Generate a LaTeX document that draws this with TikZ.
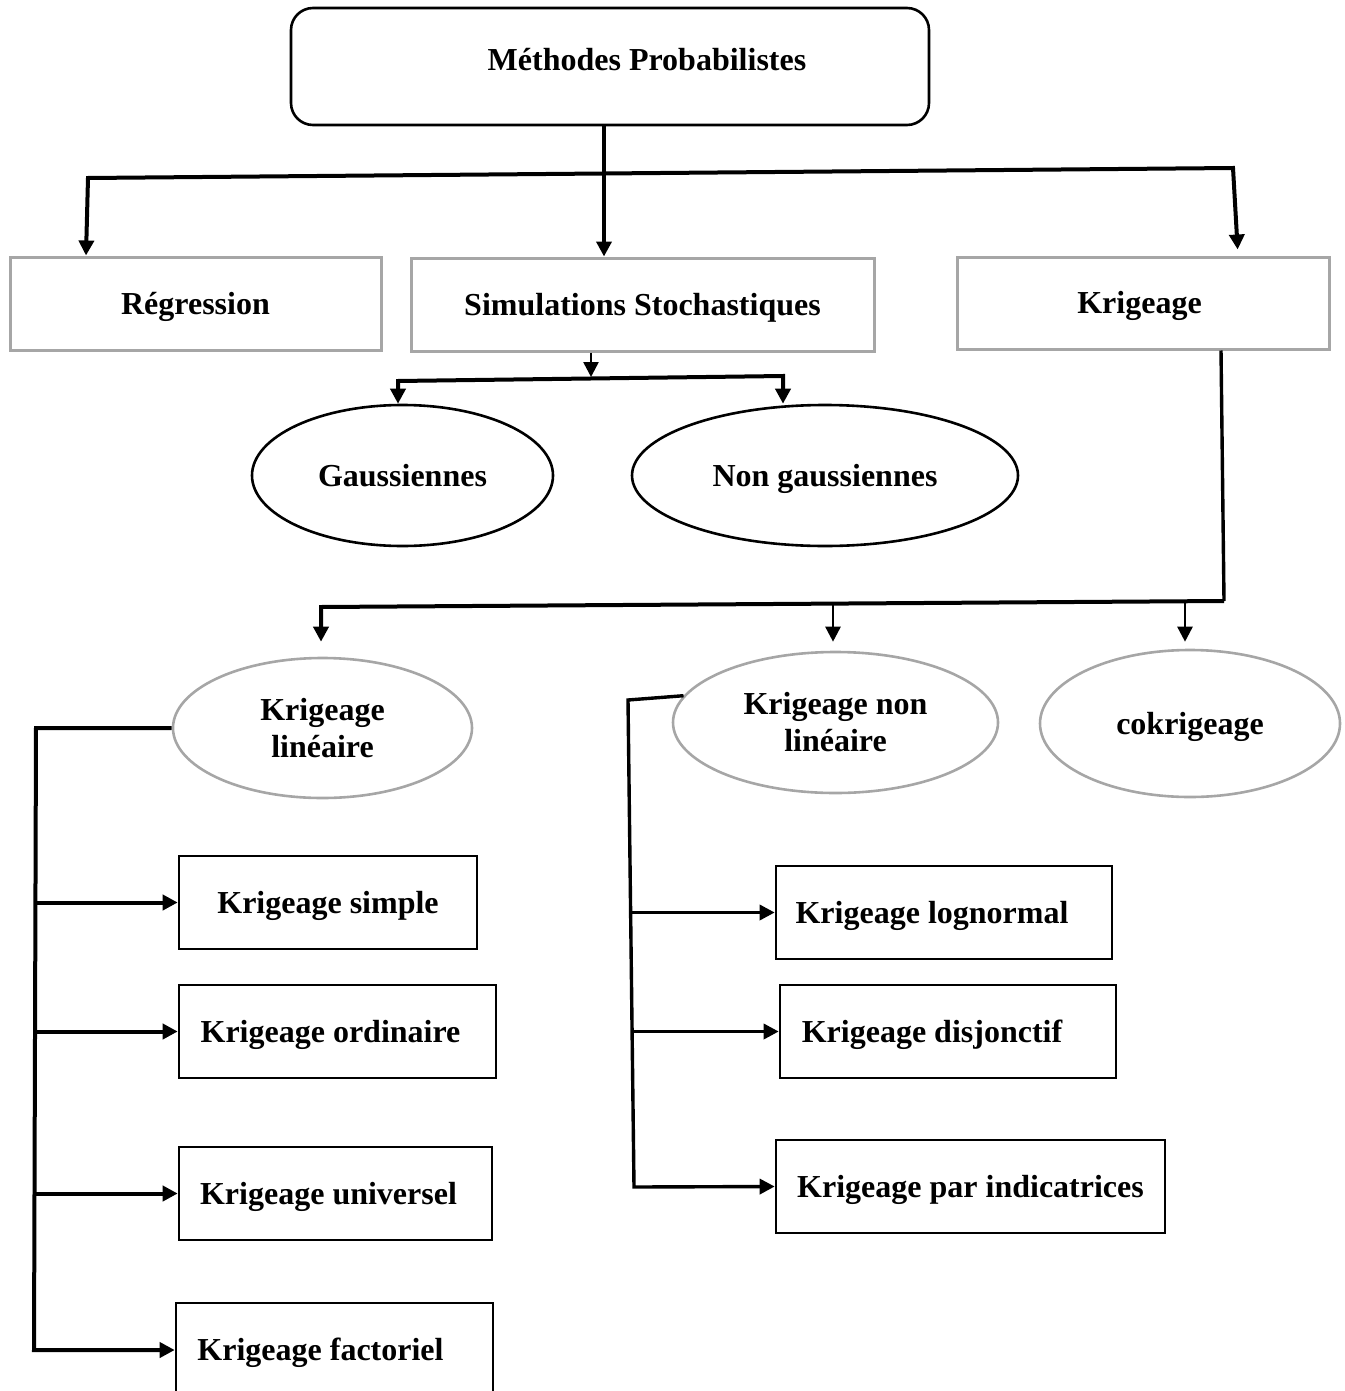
\documentclass[tikz,border=0pt]{standalone}
\usepackage{fontspec}
\setmainfont{Liberation Serif}
\usetikzlibrary{arrows.meta,shapes.geometric,calc}
\definecolor{boxgray}{HTML}{A6A6A6}
\begin{document}
\begin{tikzpicture}[x=1pt,y=-1pt,
  every node/.style={font=\fontsize{32}{37}\selectfont\bfseries, inner sep=0pt, text height=24pt, text depth=3pt, align=center},
  twolines/.style={text height=61pt},
  graybox/.style={draw=boxgray, line width=3pt, rectangle},
  blackbox/.style={draw=black, line width=2.6pt, rectangle},
  blackell/.style={draw=black, line width=2.6pt, ellipse},
  grayell/.style={draw=boxgray, line width=2.6pt, ellipse},
  tip/.style={-{Triangle[length=15pt,width=15pt]}},
  bitip/.style={{Triangle[length=15pt,width=15pt]}-{Triangle[length=15pt,width=15pt]}},
  heavy/.style={line width=4pt},
  medium/.style={line width=3.4pt},
  light/.style={line width=2.6pt},
]
\useasboundingbox (0,0) rectangle (1344,1391);

% nodes
\node[draw, rounded corners=22pt, line width=2.6pt, minimum width=638pt, minimum height=117pt, text depth=15pt] (top) at (610,66.5) {\hspace*{74pt}Méthodes Probabilistes};

\node[graybox, minimum width=371pt, minimum height=93pt] (reg) at (195.5,303.5) {Régression};
\node[graybox, minimum width=463pt, minimum height=93pt] (sim) at (642.5,304.5) {Simulations Stochastiques};
\node[graybox, minimum width=372pt, minimum height=92pt] (krig) at (1143,303) {\hspace*{-7pt}Krigeage};

\node[blackell, minimum width=301pt, minimum height=141pt] (gau) at (402.5,475.5) {Gaussiennes};
\node[blackell, minimum width=386pt, minimum height=141pt] (ngau) at (825,475.5) {Non gaussiennes};

\node[grayell, twolines, minimum width=299pt, minimum height=140pt] (klin) at (322.5,728) {Krigeage\\linéaire};
\node[grayell, twolines, minimum width=325pt, minimum height=141pt] (knl) at (835.5,722.5) {Krigeage non\\linéaire};
\node[grayell, minimum width=300pt, minimum height=147pt] (cok) at (1190,723.5) {cokrigeage};

\node[blackbox, minimum width=298pt, minimum height=93pt] (ks) at (328,902.5) {Krigeage simple};
\node[blackbox, minimum width=317pt, minimum height=93pt] (ko) at (337.5,1031.5) {Krigeage ordinaire\hspace*{14pt}};
\node[blackbox, minimum width=313pt, minimum height=93pt] (ku) at (335.5,1193.5) {Krigeage universel\hspace*{14pt}};
\node[blackbox, minimum width=317pt, minimum height=94pt] (kf) at (334.5,1350) {Krigeage factoriel\hspace*{28pt}};

\node[blackbox, minimum width=336pt, minimum height=93pt] (kln) at (944,912.5) {Krigeage lognormal\hspace*{24pt}};
\node[blackbox, minimum width=336pt, minimum height=93pt] (kdj) at (948,1031.5) {Krigeage disjonctif\hspace*{32pt}};
\node[blackbox, minimum width=389pt, minimum height=93pt] (kpi) at (970.5,1186.5) {Krigeage par indicatrices};

% connector coordinates
\coordinate (a1) at (88,178);
\coordinate (a2) at (1233,168);
\coordinate (s1) at (591,377);
\coordinate (b1) at (398,381);
\coordinate (b2) at (783,376);
\coordinate (c1) at (1224,601);
\coordinate (c2) at (321,607);
\coordinate (c3) at (833,604);
\coordinate (c4) at (1185,602);
\coordinate (d1) at (36,728);
\coordinate (d2) at (34,1350);
\coordinate (e1) at (628,700);
\coordinate (e2) at (634,1187);

% top level
\draw[heavy,tip] (top.south -| 604,0) -- (sim.north -| 604,0);
\draw[heavy,bitip,shorten >=6pt] (reg.north -| 86,0) -- (a1) -- (a2) -- (krig.north -| 1238,0);

% simulations
\draw[light,tip] (sim.south -| s1) -- (s1);
\draw[heavy,bitip] (gau.north -| b1) -- (b1) -- (b2) -- (ngau.north -| b2);

% krigeage
\draw[medium] (krig.south -| 1221,0) -- (c1);
\draw[heavy,tip,shorten >=15pt] (c1) -- (c2) -- (klin.north -| c2);
\draw[light,tip,shorten >=9pt] (c3) -- (knl.north -| c3);
\draw[light,tip,shorten >=7pt] (c4) -- (cok.north -| c4);

% linear kriging branch
\draw[heavy,tip] (klin.west) -- (d1) -- (d2) -- (kf.west);
\draw[heavy,tip] (ks.west -| 35,0) -- (ks.west);
\draw[heavy,tip] (ko.west -| 35,0) -- (ko.west);
\draw[heavy,tip] (ku.west -| 35,0) -- (ku.west);

% non-linear kriging branch
\draw[medium,tip] (knl.170) -- (e1) -- (e2) -- (kpi.west);
\draw[medium,tip] (kln.west -| 631,0) -- (kln.west);
\draw[medium,tip] (kdj.west -| 632,0) -- (kdj.west);
\end{tikzpicture}
\end{document}
